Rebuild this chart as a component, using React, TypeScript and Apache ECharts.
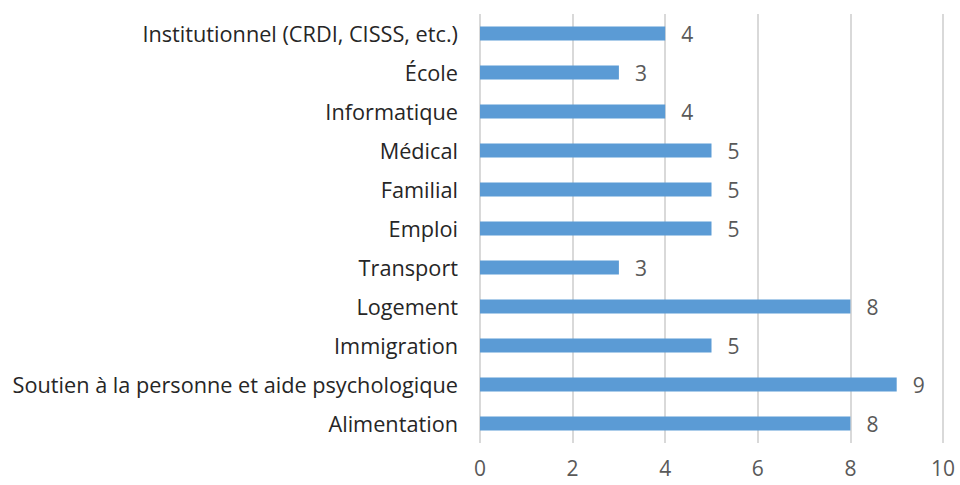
import React, { useEffect, useRef } from "react";
import * as echarts from "echarts";

const categories = [
  "Institutionnel (CRDI, CISSS, etc.)",
  "École",
  "Informatique",
  "Médical",
  "Familial",
  "Emploi",
  "Transport",
  "Logement",
  "Immigration",
  "Soutien à la personne et aide psychologique",
  "Alimentation",
];
const values = [4, 3, 4, 5, 5, 5, 3, 8, 5, 9, 8];
const xTicks = [0, 2, 4, 6, 8, 10];

const FONT = "Open Sans";

export default function App() {
  const ref = useRef<HTMLDivElement>(null);
  useEffect(() => {
    if (!ref.current) return;
    const chart = echarts.init(ref.current, null, { renderer: "svg" });
    chart.setOption({
      animation: false,
      backgroundColor: "#ffffff",
      grid: { left: 480, right: 17, top: 14, bottom: 42, containLabel: false },
      xAxis: {
        type: "value",
        min: xTicks[0],
        max: xTicks[xTicks.length - 1],
        interval: 2,
        axisLine: { show: false },
        axisTick: { show: false },
        splitLine: { show: true, lineStyle: { color: "#d9d9d9", width: 2 } },
        axisLabel: { color: "#595959", fontSize: 21, fontFamily: FONT, margin: 14 },
      },
      yAxis: {
        type: "category",
        data: categories,
        inverse: true,
        axisLine: { show: false },
        axisTick: { show: false },
        axisLabel: { color: "#262626", fontSize: 21.7, fontFamily: FONT, margin: 22 },
      },
      series: [
        {
          type: "bar",
          data: values,
          barWidth: 14,
          itemStyle: { color: "#5b9bd5" },
          label: {
            show: true,
            position: "right",
            distance: 16,
            color: "#595959",
            fontSize: 21,
            fontFamily: FONT,
          },
        },
      ],
    });
    return () => chart.dispose();
  }, []);
  return (
    <div
      ref={ref}
      style={{ position: "absolute", left: 0, top: 0, width: 960, height: 485, background: "#fff" }}
    />
  );
}
